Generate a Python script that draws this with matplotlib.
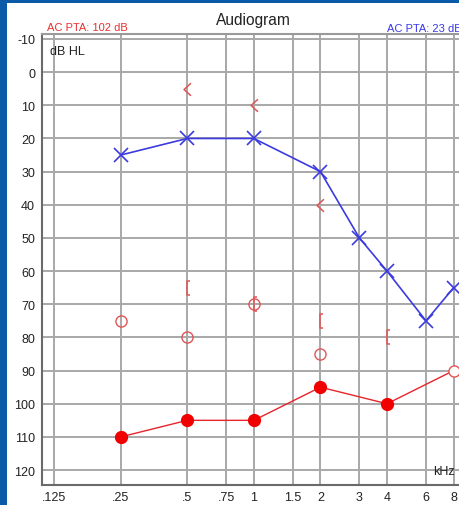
import matplotlib
matplotlib.use("Agg")
import matplotlib.pyplot as plt
from matplotlib.path import Path
from matplotlib.patches import Rectangle
import numpy as np

plt.rcParams["axes.unicode_minus"] = False

# ---- data ----
tick_freqs = [0.125, 0.25, 0.5, 0.75, 1, 1.5, 2, 3, 4, 6, 8]
tick_labels = [".125", ".25", ".5", ".75", "1", "1.5", "2", "3", "4", "6", "8"]
y_ticks = list(range(-10, 121, 10))
y_labels = [str(v) for v in y_ticks]

right_ac_freq = [0.25, 0.5, 1, 2, 3, 4, 6, 8]
right_ac_db = [25, 20, 20, 30, 50, 60, 75, 65]

left_ac_freq = [0.25, 0.5, 1, 2, 4, 8]
left_ac_db = [110, 105, 105, 95, 100, 90]
left_ac_filled = [True, True, True, True, True, False]

left_open_freq = [0.25, 0.5, 1, 2]
left_open_db = [75, 80, 70, 85]

bracket_freq = [0.5, 1, 2, 4]
bracket_db = [65, 70, 75, 80]

lt_freq = [0.5, 1, 2]
lt_db = [5, 10, 40]

W, H = 460, 506
BLUE_BG = "#0b5aa8"
RED = "#e8242a"
RED_L = "#e05555"
BLUE = "#3b3bdf"

fig = plt.figure(figsize=(W / 100, H / 100), dpi=100, facecolor=BLUE_BG)
bg = Rectangle((7 / W, 0), 1 - 7 / W, 1 - 4 / H, transform=fig.transFigure,
               facecolor="white", edgecolor="none", zorder=-10)
fig.add_artist(bg)

def px(x, y):
    return x / W, 1 - y / H

left, right, top, bottom = 42, 466, 35, 486
ax = fig.add_axes([left / W, (H - bottom) / H, (right - left) / W, (bottom - top) / H])
ax.set_zorder(1)
ax.set_facecolor("white")
ax.set_xscale("log")
ax.set_xlim(0.1102, 9.1)
ax.set_ylim(124.5, -11.5)
ax.set_xticks(tick_freqs)
ax.set_xticklabels(tick_labels)
ax.xaxis.set_minor_locator(matplotlib.ticker.NullLocator())
ax.set_yticks(y_ticks)
ax.set_yticklabels(y_labels)
ax.tick_params(length=0, labelsize=9, colors="#222222")
ax.tick_params(axis="y", pad=5)
ax.tick_params(axis="x", pad=4)
for lab in ax.get_xticklabels() + ax.get_yticklabels():
    lab.set_family("Liberation Sans")
ax.grid(True, color="#a8a8a8", linewidth=1.4, zorder=1)
ax.set_axisbelow(True)
for s in ["left", "bottom", "top"]:
    ax.spines[s].set_color("#6a6a6a")
    ax.spines[s].set_linewidth(1.5)
ax.spines["top"].set_color("#9a9a9a")
ax.spines["right"].set_visible(False)

# right AC (blue X)
ax.plot(right_ac_freq, right_ac_db, color=BLUE, linewidth=1.2, zorder=3)
ax.plot(right_ac_freq, right_ac_db, linestyle="none", marker="x", markersize=10,
        markeredgewidth=1.2, color=BLUE, zorder=4)

# left AC (red circles)
ax.plot(left_ac_freq, left_ac_db, color=RED, linewidth=1.0, zorder=3)
for f, d, filled in zip(left_ac_freq, left_ac_db, left_ac_filled):
    if filled:
        ax.plot(f, d, marker="o", markersize=8.5, color="#f00000", markeredgecolor="#f00000", zorder=4)
    else:
        ax.plot(f, d, marker="o", markersize=8, markerfacecolor="white",
                markeredgecolor=RED_L, markeredgewidth=1.0, zorder=4)

# open circles
ax.plot(left_open_freq, left_open_db, linestyle="none", marker="o", markersize=8,
        markerfacecolor="none", markeredgecolor=RED_L, markeredgewidth=1.0, zorder=4)

# brackets
bracket = Path([(0.45, -1), (0, -1), (0, 1), (0.45, 1)],
               [Path.MOVETO, Path.LINETO, Path.LINETO, Path.LINETO])
ax.plot(bracket_freq, bracket_db, linestyle="none", marker=bracket, markersize=10,
        markerfacecolor="none", markeredgecolor=RED_L, markeredgewidth=1.1, zorder=4)

# "<" markers
lt = Path([(0.55, 1), (-0.55, 0), (0.55, -1)], [Path.MOVETO, Path.LINETO, Path.LINETO])
ax.plot(lt_freq, lt_db, linestyle="none", marker=lt, markersize=9,
        markerfacecolor="none", markeredgecolor=RED_L, markeredgewidth=1.1, zorder=4)

fam = "Liberation Sans"
fig.text(*px(253, 20), "Audiogram", ha="center", va="center", fontsize=11.2, family=fam, color="#222222")
fig.text(*px(47, 28), "AC PTA: 102 dB", ha="left", va="center", fontsize=8, family=fam, color="#e83030")
fig.text(*px(387, 29), "AC PTA: 23 dB", ha="left", va="center", fontsize=8, family=fam, color="#3838e8")
fig.text(*px(50, 52), "dB HL", ha="left", va="center", fontsize=9, family=fam, color="#222222")
fig.text(*px(433, 472), "kHz", ha="left", va="center", fontsize=9, family=fam, color="#222222")

fig.savefig("out.png", dpi=100, facecolor=BLUE_BG)
